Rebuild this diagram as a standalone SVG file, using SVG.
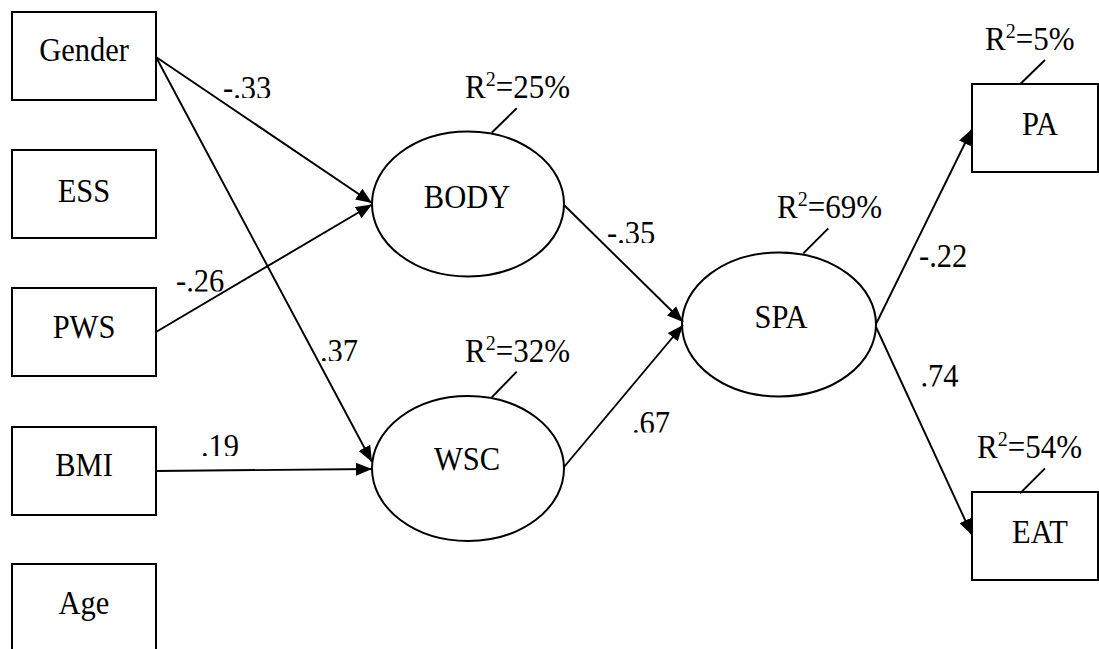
<svg xmlns="http://www.w3.org/2000/svg" width="1099" height="649" viewBox="0 0 1099 649">
  <style>
    .box { fill: #fff; stroke: #000; stroke-width: 2; }
    .lat { fill: #fff; stroke: #000; stroke-width: 2; }
    text { font-family: "Liberation Serif", "Times New Roman", serif; fill: #000; }
    .lbl { font-size: 30.5px; text-anchor: middle; }
    .coef { font-size: 30.5px; }
    .r2 { font-size: 31px; }
    .sup { font-size: 20px; }
    .path { fill: none; stroke: #000; stroke-width: 1.9; marker-end: url(#arrow); }
    .lead { fill: none; stroke: #000; stroke-width: 1.9; }
  </style>
  <defs>
    <marker id="arrow" markerUnits="userSpaceOnUse" markerWidth="17" markerHeight="13" refX="16" refY="6.5" orient="auto">
      <path d="M0,0 L16,6.5 L0,13 z" fill="#000"/>
    </marker>
    <!-- coefficient and R-square labels are cropped just above their baselines -->
    <clipPath id="c33"><rect x="210" y="60" width="80" height="38"/></clipPath>
    <clipPath id="c26"><rect x="165" y="255" width="80" height="36.5"/></clipPath>
    <clipPath id="c37"><rect x="310" y="325" width="70" height="36"/></clipPath>
    <clipPath id="c19"><rect x="190" y="420" width="70" height="36"/></clipPath>
    <clipPath id="c35"><rect x="600" y="205" width="80" height="38"/></clipPath>
    <clipPath id="c67"><rect x="625" y="395" width="70" height="37.5"/></clipPath>
    <clipPath id="c22"><rect x="910" y="230" width="80" height="37"/></clipPath>
    <clipPath id="c74"><rect x="910" y="350" width="70" height="36.5"/></clipPath>
    <clipPath id="r25"><rect x="455" y="60" width="130" height="38"/></clipPath>
    <clipPath id="r32"><rect x="455" y="325" width="130" height="37"/></clipPath>
    <clipPath id="r69"><rect x="765" y="180" width="130" height="38"/></clipPath>
    <clipPath id="r05"><rect x="975" y="10" width="124" height="40"/></clipPath>
    <clipPath id="r54"><rect x="965" y="420" width="134" height="38"/></clipPath>
  </defs>

  <!-- observed predictors -->
  <g id="gender"><rect class="box" x="12" y="12" width="144" height="88"/><text class="lbl" transform="matrix(1 0 0 1.07 84 60.5)">Gender</text></g>
  <g id="ess"><rect class="box" x="12" y="150" width="144" height="88"/><text class="lbl" transform="matrix(1 0 0 1.07 84 201.5)">ESS</text></g>
  <g id="pws"><rect class="box" x="12" y="288" width="144" height="88"/><text class="lbl" transform="matrix(1 0 0 1.07 84 338)">PWS</text></g>
  <g id="bmi"><rect class="box" x="12" y="427" width="144" height="88"/><text class="lbl" transform="matrix(1 0 0 1.07 84 476)">BMI</text></g>
  <g id="age"><rect class="box" x="12" y="564" width="144" height="88"/><text class="lbl" transform="matrix(1 0 0 1.07 84 614)">Age</text></g>

  <!-- latent variables -->
  <g id="body"><ellipse class="lat" cx="468" cy="204" rx="96" ry="72.5"/><text class="lbl" transform="matrix(1 0 0 1.07 467 208)">BODY</text></g>
  <g id="wsc"><ellipse class="lat" cx="468" cy="468.5" rx="96" ry="72.5"/><text class="lbl" transform="matrix(1 0 0 1.07 467 470)">WSC</text></g>
  <g id="spa"><ellipse class="lat" cx="779" cy="324.5" rx="97" ry="72"/><text class="lbl" transform="matrix(1 0 0 1.07 781 328)">SPA</text></g>

  <!-- outcomes -->
  <g id="pa"><rect class="box" x="972" y="84" width="126" height="88"/><text class="lbl" transform="matrix(1 0 0 1.07 1040 135)">PA</text></g>
  <g id="eat"><rect class="box" x="972" y="492" width="126" height="88"/><text class="lbl" transform="matrix(1 0 0 1.07 1040 543)">EAT</text></g>

  <!-- structural paths -->
  <g id="connectors">
    <line class="path" x1="156" y1="57" x2="372" y2="203"/>
    <line class="path" x1="156" y1="57" x2="372" y2="462"/>
    <line class="path" x1="156" y1="332" x2="372" y2="204.5"/>
    <line class="path" x1="156" y1="471" x2="372" y2="469"/>
    <line class="path" x1="564" y1="205" x2="683" y2="322"/>
    <line class="path" x1="564" y1="467" x2="683" y2="325"/>
    <line class="path" x1="876" y1="324" x2="972" y2="129"/>
    <line class="path" x1="876" y1="327" x2="972" y2="535"/>
    <!-- R-square leader lines -->
    <line class="lead" x1="516.7" y1="108.3" x2="491.7" y2="132.7"/>
    <line class="lead" x1="516.7" y1="371.7" x2="491.7" y2="397.3"/>
    <line class="lead" x1="828.3" y1="228.3" x2="803.3" y2="253.3"/>
    <line class="lead" x1="1045" y1="60" x2="1020" y2="84.3"/>
    <line class="lead" x1="1045" y1="468.3" x2="1020" y2="493.3"/>
  </g>

  <!-- path coefficients -->
  <g id="coefficients">
    <g clip-path="url(#c33)"><text class="coef" transform="matrix(1 0 0 1.07 223 98.5)">-.33</text></g>
    <g clip-path="url(#c26)"><text class="coef" transform="matrix(1 0 0 1.07 176 292)">-.26</text></g>
    <g clip-path="url(#c37)"><text class="coef" transform="matrix(1 0 0 1.07 320 361.5)">.37</text></g>
    <g clip-path="url(#c19)"><text class="coef" transform="matrix(1 0 0 1.07 201 456.5)">.19</text></g>
    <g clip-path="url(#c35)"><text class="coef" transform="matrix(1 0 0 1.07 607 243.5)">-.35</text></g>
    <g clip-path="url(#c67)"><text class="coef" transform="matrix(1 0 0 1.07 632 433.5)">.67</text></g>
    <g clip-path="url(#c22)"><text class="coef" transform="matrix(1 0 0 1.07 919 267)">-.22</text></g>
    <g clip-path="url(#c74)"><text class="coef" transform="matrix(1 0 0 1.07 920.5 386.5)">.74</text></g>
  </g>

  <!-- explained variance -->
  <g id="r-square">
    <g clip-path="url(#r25)"><text class="r2" transform="matrix(1 0 0 1.07 465 98)">R<tspan class="sup" dy="-11">2</tspan><tspan dy="11">=25%</tspan></text></g>
    <g clip-path="url(#r32)"><text class="r2" transform="matrix(1 0 0 1.07 465 362)">R<tspan class="sup" dy="-11">2</tspan><tspan dy="11">=32%</tspan></text></g>
    <g clip-path="url(#r69)"><text class="r2" transform="matrix(1 0 0 1.07 777 218)">R<tspan class="sup" dy="-11">2</tspan><tspan dy="11">=69%</tspan></text></g>
    <g clip-path="url(#r05)"><text class="r2" transform="matrix(1 0 0 1.07 985 50)">R<tspan class="sup" dy="-11">2</tspan><tspan dy="11">=5%</tspan></text></g>
    <g clip-path="url(#r54)"><text class="r2" transform="matrix(1 0 0 1.07 977 458)">R<tspan class="sup" dy="-11">2</tspan><tspan dy="11">=54%</tspan></text></g>
  </g>
</svg>
